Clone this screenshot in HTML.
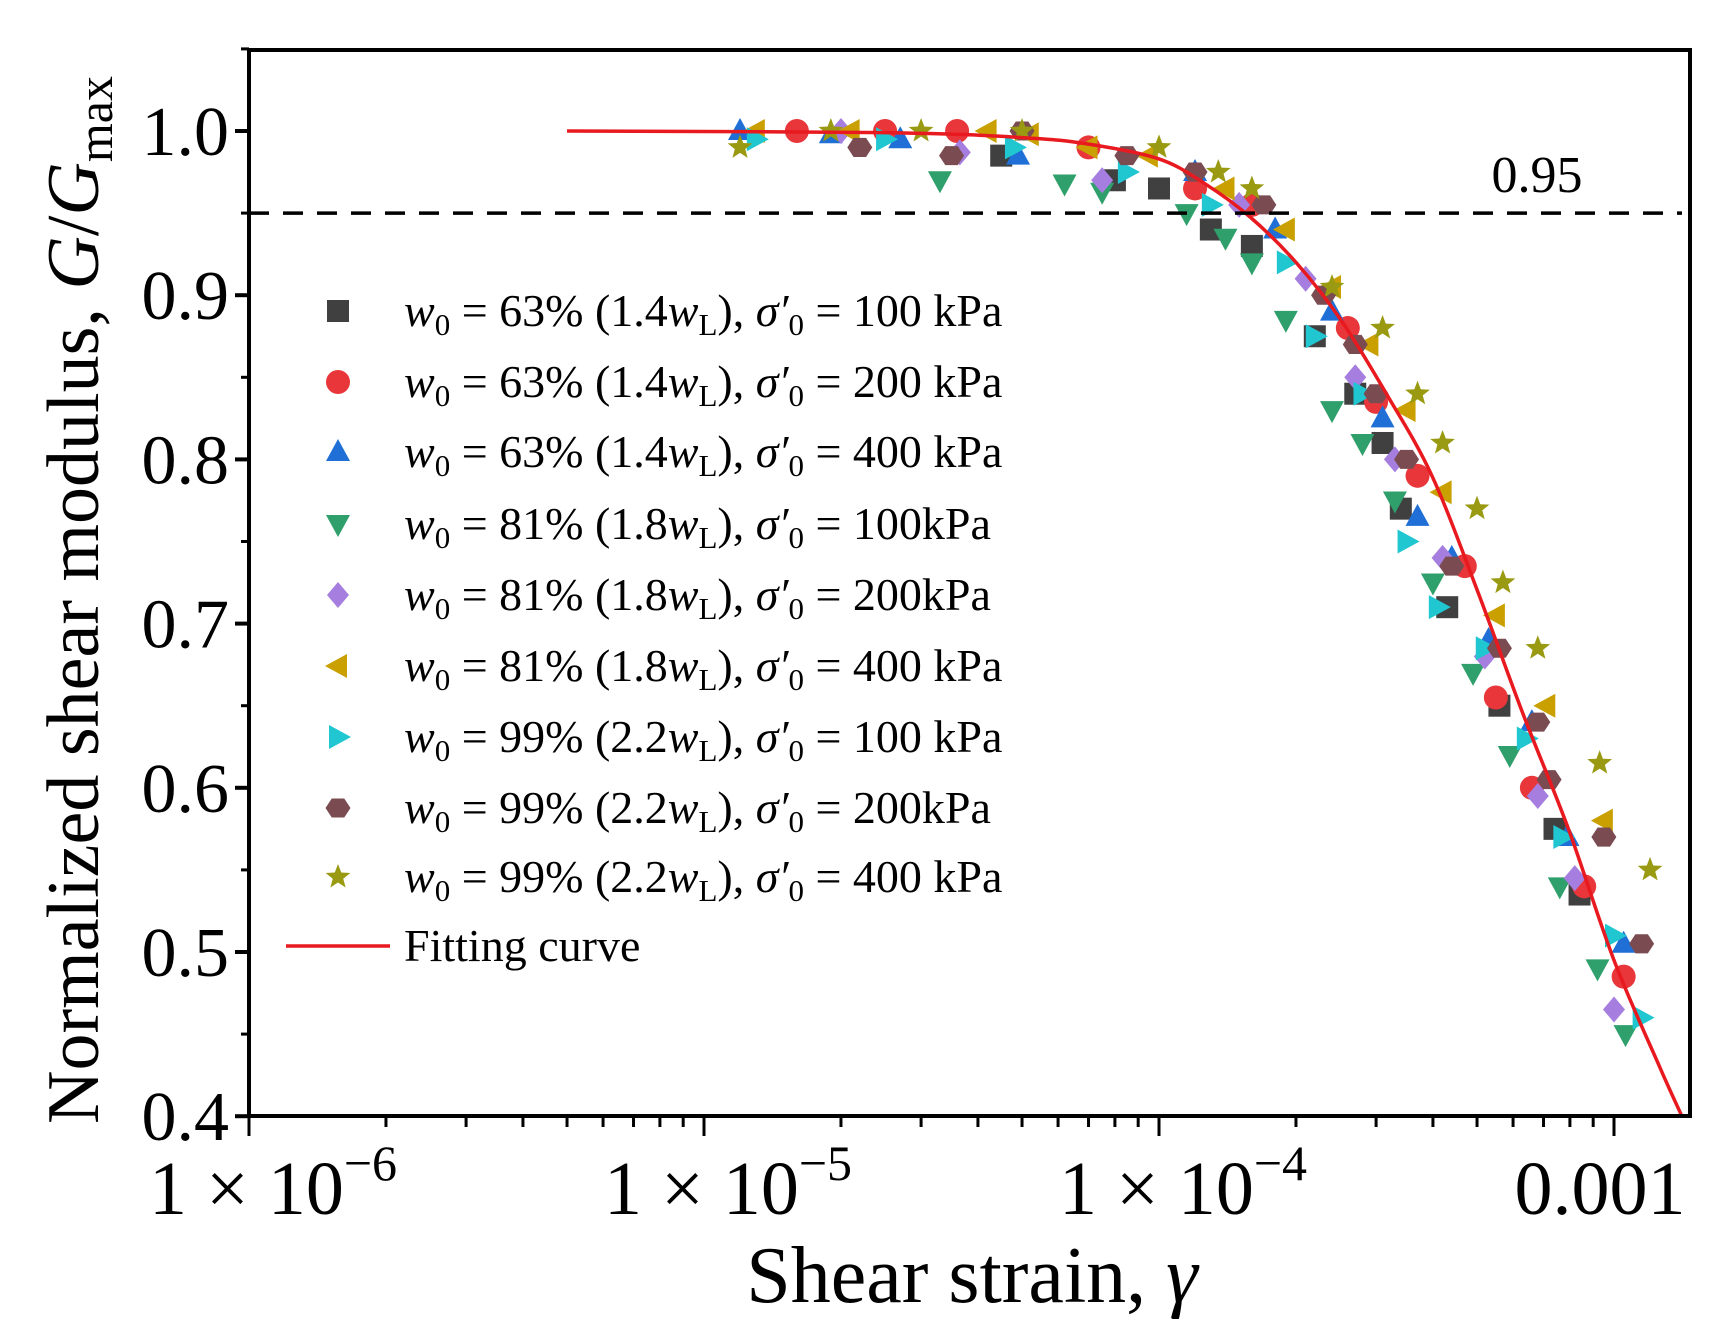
<!DOCTYPE html>
<html><head><meta charset="utf-8"><style>
html,body{margin:0;padding:0;background:#fff;}
svg{display:block;font-family:"Liberation Serif",serif;}
</style></head><body>
<svg id="chart" width="1711" height="1334" viewBox="0 0 1711 1334" xmlns="http://www.w3.org/2000/svg">
<g id="marks"></g>
<g id="axes"></g>
<g id="legend"></g>
</svg>
<script>
const xTicks = [1e-6, 1e-5, 1e-4, 1e-3];
const xTickLabels = [["1 × 10","−6"],["1 × 10","−5"],["1 × 10","−4"],["0.001",""]];
const yTicks = [0.4,0.5,0.6,0.7,0.8,0.9,1.0];
const yTickLabels = ["0.4","0.5","0.6","0.7","0.8","0.9","1.0"];
const refLine = 0.95;
const fitGamma = [5e-6,2.5e-5,5e-5,7e-5,1e-4,1.26e-4,1.58e-4,2e-4,2.51e-4,3.16e-4,3.98e-4,5.01e-4,6.31e-4,7.94e-4,1e-3,1.26e-3,1.41e-3];
const fitG = [1.0,0.999,0.996,0.992,0.983,0.968,0.948,0.92,0.885,0.84,0.79,0.72,0.645,0.575,0.495,0.43,0.40];
const s1x=[4.5e-5,8e-5,1.0e-4,1.3e-4,1.6e-4,2.2e-4,2.7e-4,3.1e-4,3.4e-4,4.3e-4,5.6e-4,7.4e-4,8.4e-4];
const s1y=[0.985,0.97,0.965,0.94,0.93,0.875,0.84,0.81,0.77,0.71,0.65,0.575,0.535];
const s2x=[1.6e-5,2.5e-5,3.6e-5,7e-5,1.2e-4,1.6e-4,2.6e-4,3.0e-4,3.7e-4,4.7e-4,5.5e-4,6.6e-4,8.6e-4,1.05e-3];
const s2y=[1.0,1.0,1.0,0.99,0.965,0.955,0.88,0.835,0.79,0.735,0.655,0.6,0.54,0.485];
const s3x=[1.2e-5,1.9e-5,2.7e-5,4.9e-5,1.2e-4,1.8e-4,2.4e-4,3.1e-4,3.7e-4,4.4e-4,5.3e-4,6.6e-4,7.9e-4,1.05e-3];
const s3y=[1.0,0.998,0.995,0.985,0.975,0.94,0.89,0.825,0.765,0.74,0.69,0.64,0.57,0.505];
const s4x=[3.3e-5,6.2e-5,7.5e-5,1.15e-4,1.4e-4,1.6e-4,1.9e-4,2.4e-4,2.8e-4,3.3e-4,4.0e-4,4.9e-4,5.9e-4,7.6e-4,9.2e-4,1.06e-3];
const s4y=[0.97,0.968,0.963,0.95,0.935,0.92,0.885,0.83,0.81,0.775,0.725,0.67,0.62,0.54,0.49,0.45];
const s5x=[2e-5,3.65e-5,7.5e-5,1.5e-4,2.1e-4,2.7e-4,3.3e-4,4.2e-4,5.2e-4,6.8e-4,8.2e-4,1.0e-3];
const s5y=[1.0,0.987,0.97,0.955,0.91,0.85,0.8,0.74,0.68,0.595,0.545,0.465];
const s6x=[1.3e-5,2.1e-5,4.2e-5,5.2e-5,7e-5,9.5e-5,1.4e-4,1.9e-4,2.4e-4,2.9e-4,3.5e-4,4.2e-4,5.5e-4,7.1e-4,9.5e-4];
const s6y=[1.0,1.0,1.0,0.998,0.99,0.985,0.965,0.94,0.905,0.87,0.83,0.78,0.705,0.65,0.58];
const s7x=[1.3e-5,2.5e-5,4.8e-5,8.5e-5,1.3e-4,1.9e-4,2.2e-4,2.8e-4,3.5e-4,4.1e-4,5.2e-4,6.4e-4,7.7e-4,1.0e-3,1.15e-3];
const s7y=[0.995,0.995,0.99,0.975,0.955,0.92,0.875,0.84,0.75,0.71,0.685,0.63,0.57,0.51,0.46];
const s8x=[2.2e-5,3.5e-5,5.0e-5,8.5e-5,1.2e-4,1.7e-4,2.3e-4,2.7e-4,3.0e-4,3.5e-4,4.4e-4,5.6e-4,6.8e-4,7.2e-4,9.5e-4,1.15e-3];
const s8y=[0.99,0.985,1.0,0.985,0.975,0.955,0.9,0.87,0.84,0.8,0.735,0.685,0.64,0.605,0.57,0.505];
const s9x=[1.2e-5,1.9e-5,3.0e-5,5.0e-5,1.0e-4,1.35e-4,1.6e-4,2.4e-4,3.1e-4,3.7e-4,4.2e-4,5.0e-4,5.7e-4,6.8e-4,9.3e-4,1.2e-3];
const s9y=[0.99,1.0,1.0,1.0,0.99,0.975,0.965,0.905,0.88,0.84,0.81,0.77,0.725,0.685,0.615,0.55];
const seriesNames=["w63-100","w63-200","w63-400","w81-100","w81-200","w81-400","w99-100","w99-200","w99-400"];
const seriesColors=["#404040","#e8363a","#1f6fd6","#2fa06c","#a67ee0","#c9a000","#20c6d0","#7a4c52","#999a12"];
const seriesShapes=["square","circle","up","down","diamond","left","right","hex","star"];
const legendW=["63%","63%","63%","81%","81%","81%","99%","99%","99%"];
const legendR=["1.4","1.4","1.4","1.8","1.8","1.8","2.2","2.2","2.2"];
const legendP=[" = 100 kPa"," = 200 kPa"," = 400 kPa"," = 100kPa"," = 200kPa"," = 400 kPa"," = 100 kPa"," = 200kPa"," = 400 kPa"];
const SX=[s1x,s2x,s3x,s4x,s5x,s6x,s7x,s8x,s9x], SY=[s1y,s2y,s3y,s4y,s5y,s6y,s7y,s8y,s9y];

const L=249,R=1690,T=50,B=1116;
const X=g=>L+(Math.log10(g)+6)*455;
const Y=v=>131+(1-v)*1642;
const NS="http://www.w3.org/2000/svg";
function mk(tag,attrs,parent){const e=document.createElementNS(NS,tag);for(const k in attrs)e.setAttribute(k,attrs[k]);parent.appendChild(e);return e;}
const marks=document.getElementById('marks'),axes=document.getElementById('axes'),leg=document.getElementById('legend');

function shape(kind,cx,cy,col,parent){
  const r=11;let e;
  if(kind==="square")e=mk('rect',{x:cx-r,y:cy-r,width:2*r,height:2*r,fill:col},parent);
  else if(kind==="circle")e=mk('circle',{cx:cx,cy:cy,r:r+1,fill:col},parent);
  else{
    let pts;
    if(kind==="up")pts=[[0,-13],[12,9],[-12,9]];
    else if(kind==="down")pts=[[0,13],[12,-9],[-12,-9]];
    else if(kind==="left")pts=[[-13,0],[9,-12],[9,12]];
    else if(kind==="right")pts=[[13,0],[-9,-12],[-9,12]];
    else if(kind==="diamond")pts=[[0,-13],[11,0],[0,13],[-11,0]];
    else if(kind==="hex"){pts=[];for(let i=0;i<6;i++){const a=Math.PI/3*i;pts.push([12.5*Math.cos(a),11*Math.sin(a)]);}}
    else {pts=[];for(let i=0;i<10;i++){const a=-Math.PI/2+Math.PI/5*i;const rr=i%2?5.5:13;pts.push([rr*Math.cos(a),rr*Math.sin(a)]);}}
    e=mk('polygon',{points:pts.map(p=>(cx+p[0])+','+(cy+p[1])).join(' '),fill:col},parent);
  }
  return e;
}

for(let s=0;s<9;s++){
  const g=mk('g',{},marks);
  
  
  for(let i=0;i<SX[s].length;i++){
    const m=shape(seriesShapes[s],X(SX[s][i]),Y(SY[s][i]),seriesColors[s],g);
    
    
  }
}
(function(){
  const px=fitGamma.map(X),py=fitG.map(Y);
  let d='M'+px[0]+','+py[0];
  for(let i=0;i<px.length-1;i++){
    const p0=i>0?[px[i-1],py[i-1]]:[px[i],py[i]],p1=[px[i],py[i]],p2=[px[i+1],py[i+1]],p3=i+2<px.length?[px[i+2],py[i+2]]:p2;
    const c1=[p1[0]+(p2[0]-p0[0])/6,p1[1]+(p2[1]-p0[1])/6],c2=[p2[0]-(p3[0]-p1[0])/6,p2[1]-(p3[1]-p1[1])/6];
    d+=' C'+c1+' '+c2+' '+p2;
  }
  const c=mk('path',{d:d,fill:'none',stroke:'#e8191f','stroke-width':3.5},marks);
  
  
})();
const rl=mk('line',{x1:L,x2:R-8,y1:Y(refLine),y2:Y(refLine),stroke:'#000','stroke-width':3.5,'stroke-dasharray':'20 14'},axes);


const rlt=mk('text',{x:1537,y:192,'font-size':52,'text-anchor':'middle'},axes);rlt.textContent=String(refLine);



const fr=mk('rect',{x:L,y:T,width:R-L,height:B-T,fill:'none',stroke:'#000','stroke-width':4},axes);


for(let dec=-6;dec<=-3;dec++){
  for(let m=1;m<10;m++){
    const g=m*Math.pow(10,dec);const x=X(g);if(x>R)break;
    const tk=mk('line',{x1:x,x2:x,y1:B,y2:B+(m===1?20:11),stroke:'#000','stroke-width':3},axes);
    
    
  }
}
xTicks.forEach((t,i)=>{
  const tx=mk('text',{x:X(t)+(xTickLabels[i][1]?24:-14),y:1214,'font-size':76,'text-anchor':'middle'},axes);
  tx.textContent=xTickLabels[i][0];
  if(xTickLabels[i][1]){const ts=mk('tspan',{dy:-34,'font-size':50},tx);ts.textContent=xTickLabels[i][1];}
  
  
});
yTicks.forEach((t,i)=>{
  const tk=mk('line',{x1:L-14,x2:L,y1:Y(t),y2:Y(t),stroke:'#000','stroke-width':4},axes);
  
  
  const mn=mk('line',{x1:L-8,x2:L,y1:Y(t+0.05),y2:Y(t+0.05),stroke:'#000','stroke-width':3},axes);
  
  
  const tx=mk('text',{x:229,y:Y(t)+24,'font-size':70,'text-anchor':'end'},axes);tx.textContent=yTickLabels[i];
  
  
});
const xt=mk('text',{x:972,y:1302,'font-size':80,'text-anchor':'middle'},axes);
xt.innerHTML='Shear strain, <tspan font-style="italic">γ</tspan>';


const yt=mk('text',{x:0,y:0,'font-size':74,'text-anchor':'middle',transform:'translate(98,600) rotate(-90)'},axes);
yt.innerHTML='Normalized shear modulus, <tspan font-style="italic">G</tspan>/<tspan font-style="italic">G</tspan><tspan font-size="50" dy="14">max</tspan>';



const rows=[311,382,452,524,595,666,737,808,877];
for(let s=0;s<9;s++){
  const g=mk('g',{},leg);
  
  
  shape(seriesShapes[s],338,rows[s],seriesColors[s],g);
  const t=mk('text',{x:404,y:rows[s]+15,'font-size':46},g);
  t.innerHTML='<tspan font-style="italic">w</tspan><tspan font-size="31" dy="9">0</tspan><tspan dy="-9"> = '+legendW[s]+' ('+legendR[s]+'</tspan><tspan font-style="italic">w</tspan><tspan font-size="31" dy="9">L</tspan><tspan dy="-9">), </tspan><tspan font-style="italic">σ′</tspan><tspan font-size="31" dy="9">0</tspan><tspan dy="-9">'+legendP[s]+'</tspan>';
}
const lf=mk('g',{},leg);


mk('line',{x1:286,x2:390,y1:946,y2:946,stroke:'#e8191f','stroke-width':3.5},lf);
const lft=mk('text',{x:404,y:961,'font-size':46},lf);lft.textContent='Fitting curve';
</script>
</body></html>
